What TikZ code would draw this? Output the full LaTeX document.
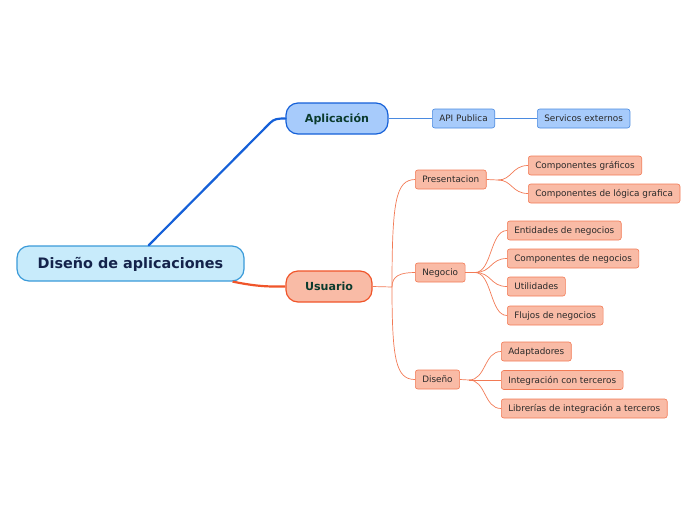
\documentclass[tikz,border=0pt]{standalone}
\usepackage{fontspec}
\setmainfont{DejaVu Sans}
\definecolor{rootfill}{HTML}{C8EBFB}
\definecolor{rootdraw}{HTML}{3A9AD9}
\definecolor{rootText}{HTML}{14234B}
\definecolor{bluefill}{HTML}{A7CBFB}
\definecolor{bluedraw}{HTML}{1560D8}
\definecolor{bluethin}{HTML}{4A8AE0}
\definecolor{orfill}{HTML}{F9BBA6}
\definecolor{ordraw}{HTML}{F0552A}
\definecolor{orthin}{HTML}{F27A55}
\definecolor{greenText}{HTML}{0B3B2E}
\definecolor{smallText}{HTML}{2A2A2A}
\tikzset{
  rootbox/.style={draw=rootdraw, fill=rootfill, line width=1.2pt, rounded corners=12pt,
    minimum height=35pt, inner xsep=4pt, text height=10.5pt, text depth=0pt,
    text=rootText, font=\fontsize{14.4}{16}\selectfont\bfseries},
  mainbox/.style={line width=1.2pt, rounded corners=12pt, minimum height=31pt,
    inner xsep=4pt, text height=8.1pt, text depth=0pt,
    text=greenText, font=\fontsize{11.1}{13}\selectfont\bfseries},
  apbox/.style={mainbox, draw=bluedraw, fill=bluefill},
  usbox/.style={mainbox, draw=ordraw, fill=orfill},
  leaf/.style={anchor=west, line width=0.6pt, rounded corners=2.5pt, minimum height=19pt, inner xsep=7pt,
    text height=6.4pt, text depth=0pt,
    text=smallText, font=\fontsize{8.85}{10}\selectfont},
  bleaf/.style={leaf, draw=bluethin, fill=bluefill},
  oleaf/.style={leaf, draw=orthin, fill=orfill},
  bthin/.style={draw=bluethin, line width=0.7pt},
  othin/.style={draw=orthin, line width=0.7pt},
}
\begin{document}
\begin{tikzpicture}[x=1pt,y=-1pt]
\useasboundingbox (0,0) rectangle (696,520);
% nodes
\node[rootbox, minimum width=227pt] (root) at (130.5,263.5) {Diseño de aplicaciones};
\node[apbox, minimum width=102pt] (apl) at (337,118.5) {Aplicación};
\node[usbox, minimum width=86pt] (usu) at (329,286.5) {Usuario};
\node[bleaf] (api) at (432,118.5) {API Publica};
\node[bleaf] (serv) at (537,118.5) {Servicos externos};
\node[oleaf] (pres) at (415,179.5) {Presentacion};
\node[oleaf] (cg) at (528,165.5) {Componentes gráficos};
\node[oleaf] (clg) at (528,193.5) {Componentes de lógica grafica};
\node[oleaf] (neg) at (415,272.5) {Negocio};
\node[oleaf] (ent) at (507,230.5) {Entidades de negocios};
\node[oleaf] (cn) at (507,258.5) {Componentes de negocios};
\node[oleaf] (uti) at (507,286.5) {Utilidades};
\node[oleaf] (flu) at (507,315.5) {Flujos de negocios};
\node[oleaf] (dis) at (415,379.5) {Diseño};
\node[oleaf] (ada) at (501,351.5) {Adaptadores};
\node[oleaf] (int) at (501,380) {Integración con terceros};
\node[oleaf] (lib) at (501,408.5) {Librerías de integración a terceros};
% main connectors
\draw[draw=bluedraw, line width=2.2pt, line cap=round] (root.north east) ++(-96,0) coordinate (r1)
  -- (270,123) .. controls (274,119) and (277,118.5) .. (apl.west);
\draw[draw=ordraw, line width=2.2pt] (root.south east) ++(-12,0) coordinate (r2)
  .. controls (250,285) and (262,287) .. (usu.west);
% blue thin
\draw[bthin] (apl.east) -- (api.west);
\draw[bthin] (api.east) -- (serv.west);
% usuario branches
\coordinate (uj) at (392,287);
\draw[othin] (usu.east) -- (uj);
\draw[othin] (uj) .. controls (392,200) and (396,180) .. (pres.west);
\draw[othin] (uj) .. controls (392,276) and (400,272.5) .. (neg.west);
\draw[othin] (uj) .. controls (392,360) and (396,379.5) .. (dis.west);
% presentacion children
\coordinate (pj) at (498,180);
\draw[othin] (pres.east) -- (pj);
\draw[othin] (pj) .. controls (512,180) and (512,165.5) .. (cg.west);
\draw[othin] (pj) .. controls (512,180) and (512,193.5) .. (clg.west);
% negocio children
\coordinate (nj) at (475,272.5);
\draw[othin] (neg.east) -- (nj);
\draw[othin] (nj) .. controls (492,272.5) and (490,230.5) .. (ent.west);
\draw[othin] (nj) .. controls (492,272.5) and (490,258.5) .. (cn.west);
\draw[othin] (nj) .. controls (492,272.5) and (490,286.5) .. (uti.west);
\draw[othin] (nj) .. controls (492,272.5) and (490,315.5) .. (flu.west);
% diseño children
\coordinate (dj) at (469,380);
\draw[othin] (dis.east) -- (dj);
\draw[othin] (dj) .. controls (486,380) and (484,351.5) .. (ada.west);
\draw[othin] (dj) -- (int.west);
\draw[othin] (dj) .. controls (486,380) and (484,408.5) .. (lib.west);
\end{tikzpicture}
\end{document}
